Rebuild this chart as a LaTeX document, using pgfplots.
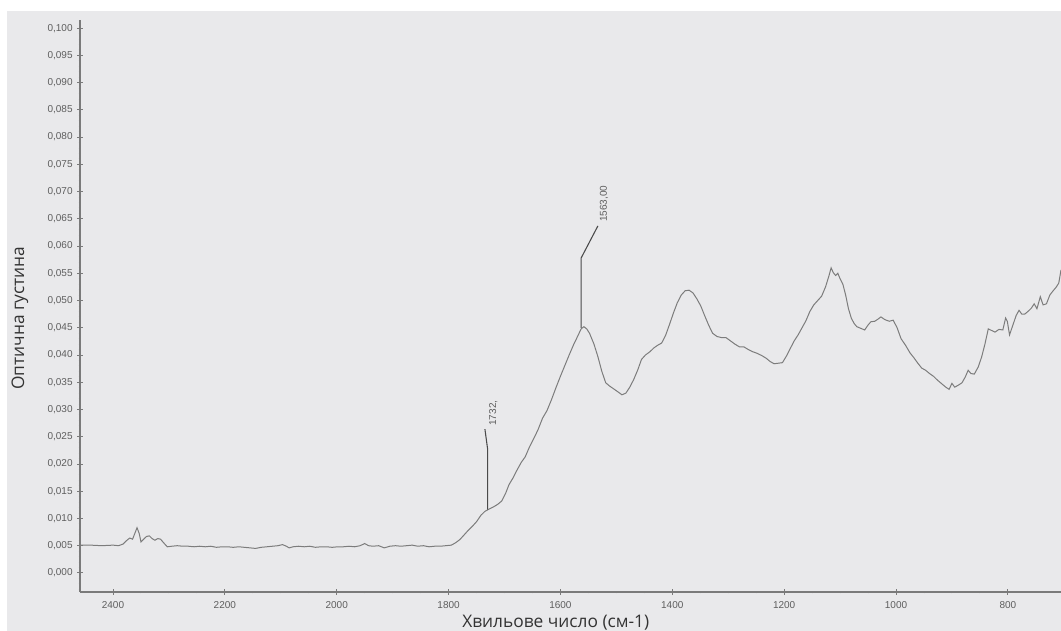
\documentclass[border=0pt]{standalone}
\usepackage{pgfplots}
\pgfplotsset{compat=1.18}
\usepackage{fontspec}
\setmainfont{Open Sans}
\newfontfamily\tickfont{Liberation Sans}
\definecolor{bg}{HTML}{E9E9EB}
\definecolor{ax}{HTML}{7A7A7A}
\definecolor{lbl}{HTML}{5E5E5E}
\definecolor{spec}{HTML}{7C7C7C}
\definecolor{ann}{HTML}{4A4A4A}
\begin{document}
\begin{tikzpicture}
\fill[white] (0,0) rectangle (795.75pt,473.25pt);
\fill[bg] (5.25pt,0) rectangle (795.75pt,465pt);
\begin{axis}[
  at={(60pt,29.25pt)}, anchor=south west,
  scale only axis, width=735.75pt, height=429pt,
  x dir=reverse, xmin=705, xmax=2459, ymin=-0.0035, ymax=0.1015,
  axis x line*=bottom, axis y line*=left,
  axis line style={ax,-,line width=0.8pt},
  every outer x axis line/.append style={-},
  every outer y axis line/.append style={-},
  xtick={800,1000,...,2400}, minor x tick num=3,
  ytick distance=0.005, minor y tick num=4,
  tick align=center,
  major tick length=4pt, minor tick length=2pt,
  every tick/.style={ax,line width=0.7pt},
  tick label style={font=\tickfont\fontsize{7.5}{8}\selectfont, text=lbl},
  /pgf/number format/assume math mode=true,
  yticklabel style={/pgf/number format/.cd, fixed, fixed zerofill, precision=3, use comma},
  xticklabel style={/pgf/number format/.cd, 1000 sep={}, /tikz/yshift=-1.5pt},
  xlabel={Хвильове число (см-1)},
  ylabel={Оптична густина},
  label style={font=\fontsize{13}{14}\selectfont, text=black!80},
  xlabel style={at={(axis description cs:0.485,-0.0405)}, anchor=north, inner sep=0pt},
  ylabel style={at={(axis description cs:-0.0612,0.479)}, anchor=center, inner sep=0pt},
  clip=true,
]
\addplot[spec, line width=0.75pt] coordinates {
(2459,0.0051) (2440,0.0051) (2420,0.0050) (2400,0.0051) (2390,0.0050) (2382,0.0053)
(2375,0.0060) (2370,0.0064) (2365,0.0062) (2360,0.0075) (2357,0.0083) (2353,0.0072)
(2350,0.0057) (2345,0.0062) (2340,0.0067) (2335,0.0068) (2330,0.0063) (2325,0.0060)
(2320,0.0063) (2315,0.0062) (2310,0.0056) (2303,0.0048) (2295,0.0049) (2285,0.0050)
(2275,0.0049) (2265,0.0049) (2255,0.0048) (2245,0.0049) (2235,0.0048) (2225,0.0049)
(2215,0.0047) (2205,0.0048) (2195,0.0048) (2185,0.0047) (2175,0.0048) (2165,0.0047)
(2155,0.0046) (2145,0.0045) (2135,0.0047) (2125,0.0048) (2115,0.0049) (2105,0.0050)
(2097,0.0052) (2090,0.0049) (2085,0.0046) (2078,0.0048) (2068,0.0049) (2058,0.0048)
(2048,0.0049) (2038,0.0047) (2028,0.0048) (2018,0.0048) (2008,0.0047) (1998,0.0048)
(1988,0.0048) (1978,0.0049) (1968,0.0048) (1958,0.0050) (1950,0.0054) (1943,0.0050)
(1935,0.0049) (1925,0.0050) (1915,0.0046) (1905,0.0049) (1895,0.0050) (1885,0.0049)
(1875,0.0050) (1865,0.0051) (1855,0.0049) (1845,0.0050) (1835,0.0048) (1825,0.0049)
(1815,0.0049) (1805,0.0050) (1795,0.0051) (1788,0.0055) (1780,0.0061) (1772,0.0070)
(1765,0.0078) (1758,0.0085) (1750,0.0094) (1742,0.0106) (1735,0.0113) (1728,0.0117)
(1720,0.0121) (1712,0.0126) (1705,0.0132) (1698,0.0146) (1692,0.0162) (1685,0.0174)
(1678,0.0188) (1670,0.0203) (1663,0.0213) (1655,0.0232) (1648,0.0246) (1640,0.0263)
(1632,0.0284) (1624,0.0298) (1616,0.0318) (1608,0.0340) (1600,0.0361) (1592,0.0381)
(1584,0.0401) (1576,0.0420) (1568,0.0437) (1563,0.0448) (1558,0.0452) (1553,0.0448)
(1548,0.0440) (1540,0.0420) (1533,0.0397) (1526,0.0370) (1519,0.0349) (1512,0.0343)
(1505,0.0338) (1498,0.0333) (1490,0.0327) (1483,0.0330) (1476,0.0341) (1469,0.0355)
(1462,0.0372) (1455,0.0392) (1448,0.0400) (1440,0.0406) (1433,0.0413) (1426,0.0418)
(1419,0.0422) (1412,0.0436) (1405,0.0456) (1398,0.0477) (1391,0.0496) (1384,0.0510)
(1377,0.0518) (1370,0.0519) (1363,0.0514) (1356,0.0503) (1349,0.0490) (1342,0.0472)
(1335,0.0455) (1328,0.0440) (1320,0.0434) (1312,0.0432) (1304,0.0432) (1296,0.0426)
(1288,0.0420) (1280,0.0415) (1272,0.0415) (1264,0.0410) (1256,0.0406) (1248,0.0403)
(1240,0.0399) (1232,0.0394) (1225,0.0388) (1218,0.0384) (1210,0.0385) (1203,0.0386)
(1196,0.0398) (1189,0.0412) (1182,0.0426) (1175,0.0437) (1168,0.0450) (1161,0.0463)
(1154,0.0480) (1147,0.0492) (1140,0.0500) (1133,0.0508) (1126,0.0525) (1120,0.0545)
(1116,0.0560) (1112,0.0551) (1108,0.0546) (1104,0.0550) (1100,0.0540) (1095,0.0530)
(1090,0.0510) (1085,0.0485) (1080,0.0468) (1075,0.0458) (1070,0.0452) (1063,0.0449)
(1056,0.0446) (1050,0.0455) (1045,0.0461) (1038,0.0462) (1032,0.0466) (1027,0.0470)
(1020,0.0465) (1012,0.0462) (1005,0.0464) (998,0.0450) (991,0.0430) (983,0.0418)
(975,0.0404) (968,0.0395) (961,0.0385) (954,0.0376) (947,0.0372) (940,0.0366)
(933,0.0361) (926,0.0354) (918,0.0347) (911,0.0341) (905,0.0337) (900,0.0348)
(895,0.0341) (888,0.0345) (882,0.0349) (876,0.0360) (871,0.0372) (866,0.0366)
(860,0.0365) (853,0.0378) (847,0.0396) (841,0.0420) (835,0.0448) (829,0.0445)
(823,0.0442) (816,0.0447) (809,0.0446) (804,0.0468) (801,0.0462) (797,0.0437)
(791,0.0455) (785,0.0473) (780,0.0482) (775,0.0475) (770,0.0475) (764,0.0480)
(758,0.0486) (753,0.0494) (748,0.0485) (742,0.0507) (737,0.0492) (731,0.0494)
(725,0.0510) (719,0.0518) (714,0.0524) (709,0.0532) (705,0.0556)
};
\addplot[ann, line width=0.8pt] coordinates {(1730,0.0116) (1730,0.0226) (1735,0.0264)};
\addplot[ann, line width=0.8pt] coordinates {(1563,0.0450) (1563,0.0578) (1533,0.0637)};
\node[rotate=90, anchor=west, inner sep=0pt, font=\tickfont\fontsize{7.5}{8}\selectfont, text=lbl] at (axis cs:1720,0.0270) {1732,};
\node[rotate=90, anchor=west, inner sep=0pt, font=\tickfont\fontsize{7.5}{8}\selectfont, text=lbl] at (axis cs:1522,0.0644) {1563,00};
\end{axis}
\pgfresetboundingbox
\useasboundingbox (0,0) rectangle (795.75pt,473.25pt);
\end{tikzpicture}
\end{document}
